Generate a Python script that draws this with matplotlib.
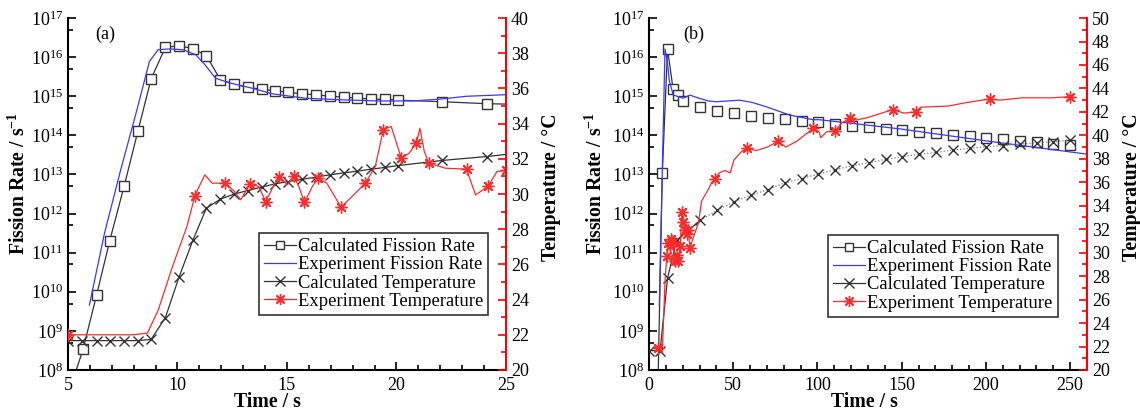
import numpy as np
import matplotlib
matplotlib.use('Agg')
import matplotlib.pyplot as plt
from matplotlib.ticker import FixedLocator, MultipleLocator, LogFormatterMathtext, NullFormatter
from matplotlib.lines import Line2D

plt.rcParams['font.family'] = ['Liberation Serif', 'DejaVu Serif']
plt.rcParams['mathtext.fontset'] = 'custom'
plt.rcParams['mathtext.rm'] = 'Liberation Serif'
plt.rcParams['mathtext.it'] = 'Liberation Serif:italic'
plt.rcParams['mathtext.bf'] = 'Liberation Serif:bold'

# ---------------- panel (a) data ----------------
# calculated fission rate (log10 of rate); first and last points only carry the line
calc_fr_a_t = [5.38, 5.69, 6.31, 6.91, 7.57, 8.19, 8.80, 9.45, 10.07, 10.71, 11.32, 11.96, 12.58,
               13.20, 13.84, 14.46, 15.07, 15.70, 16.33, 16.95, 17.59, 18.21, 18.83, 19.47,
               20.09, 22.10, 24.12, 25.0]
calc_fr_a_log = [8.0, 8.53, 9.92, 11.31, 12.71, 14.10, 15.45, 16.25, 16.29, 16.22, 16.04, 15.42, 15.31,
                 15.23, 15.18, 15.14, 15.10, 15.06, 15.04, 15.00, 14.98, 14.95, 14.93, 14.92,
                 14.90, 14.86, 14.81, 14.80]

exp_fr_a_t = [5.98, 6.67, 7.40, 8.11, 8.72, 9.12, 9.62, 10.27, 10.84, 11.25, 11.74, 12.40, 13.38,
              14.36, 15.83, 17.47, 19.11, 20.74, 22.05, 23.20, 25.0]
exp_fr_a_log = [9.66, 11.50, 13.10, 14.57, 15.89, 16.19, 16.21, 16.19, 16.06, 15.81, 15.46, 15.34, 15.21,
                15.06, 14.95, 14.91, 14.88, 14.88, 14.93, 15.00, 15.04]

calc_temp_a_t = [5.0, 5.65, 6.31, 6.93, 7.57, 8.19, 8.80, 9.45, 10.07, 10.71, 11.32, 11.96, 12.58,
                 13.20, 13.84, 14.46, 15.07, 15.70, 16.33, 16.95, 17.59, 18.21, 18.83, 19.47,
                 20.09, 22.10, 24.12, 25.0]
calc_temp_a = [21.67, 21.67, 21.67, 21.67, 21.67, 21.67, 21.74, 22.98, 25.27, 27.39, 29.19, 29.71, 29.99,
               30.20, 30.39, 30.58, 30.71, 30.84, 30.96, 31.09, 31.20, 31.30, 31.41, 31.51,
               31.62, 31.91, 32.13, 32.25]

exp_temp_a_t = [5.0, 6.0, 7.0, 8.0, 8.63, 9.12, 9.78, 10.43, 10.79, 10.99, 11.25, 11.58, 12.18, 12.56,
                12.89, 13.30, 13.71, 14.03, 14.36, 14.66, 15.02, 15.31, 15.55, 15.80, 16.16, 16.41,
                16.82, 17.47, 18.13, 18.58, 19.03, 19.40, 19.76, 20.22, 20.58, 20.91, 21.07, 21.27,
                21.48, 22.22, 23.20, 23.61, 24.18, 24.59, 25.0]
exp_temp_a = [22.0, 22.0, 22.0, 22.0, 22.1, 23.4, 25.9, 28.15, 29.86, 30.43, 31.09, 30.62, 30.62, 30.2,
              29.67, 30.56, 30.43, 29.57, 30.4, 30.96, 30.52, 31.03, 30.4, 29.52, 30.43, 30.90,
              30.62, 29.25, 30.05, 30.62, 31.56, 33.65, 33.84, 32.04, 32.32, 32.89, 33.74, 32.42,
              31.75, 31.47, 31.41, 29.95, 30.43, 31.28, 31.34]
exp_temp_a_marks = [0, 8, 12, 15, 17, 19, 21, 23, 25, 27, 29, 31, 33, 35, 38, 40, 42, 44]

# ---------------- panel (b) data ----------------
calc_fr_b_t = [5.5, 7.9, 11.0, 14.3, 17.1, 20.4, 30.3, 40.6, 50.4, 60.5, 70.6, 80.5, 90.6, 100.4,
               110.7, 120.6, 130.5, 140.4, 150.4, 160.1, 170.4, 180.3, 190.4, 200.2, 210.1,
               220.2, 230.3, 240.1, 250.0]
calc_fr_b_log = [8.0, 13.04, 16.21, 15.18, 15.02, 14.89, 14.72, 14.63, 14.56, 14.50, 14.45, 14.42, 14.38,
                 14.33, 14.29, 14.24, 14.21, 14.17, 14.14, 14.09, 14.06, 14.02, 13.98, 13.94,
                 13.91, 13.86, 13.82, 13.79, 13.75]

exp_fr_b_t = [6.1, 9.5, 11.0, 12.0, 14.4, 17.5, 20.3, 24.3, 28.2, 35.1, 40.1, 53.9, 61.4, 69.7, 83.5,
              97.3, 101.0, 120.0, 150.0, 180.0, 200.0, 230.0, 260.0]
exp_fr_b_log = [9.65, 16.21, 15.85, 15.41, 15.03, 14.99, 14.95, 15.03, 14.97, 14.88, 14.86, 14.90, 14.84,
                14.73, 14.52, 14.40, 14.40, 14.31, 14.16, 13.98, 13.86, 13.69, 13.52]

calc_temp_b_t = [0.0, 6.6, 11.0, 16.4, 30.3, 40.6, 50.4, 60.5, 70.6, 80.5, 90.6, 100.4, 110.7, 120.6,
                 130.5, 140.4, 150.4, 160.1, 170.4, 180.3, 190.4, 200.2, 210.1, 220.2, 230.3,
                 240.1, 250.0]
calc_temp_b = [21.65, 21.65, 27.83, 31.05, 32.76, 33.62, 34.33, 34.90, 35.38, 35.95, 36.32, 36.70,
               37.09, 37.41, 37.66, 37.95, 38.18, 38.38, 38.55, 38.75, 38.89, 39.03, 39.12, 39.26,
               39.37, 39.46, 39.60]

exp_temp_b_t = [3.0, 5.5, 8.0, 9.5, 10.5, 11.5, 12.4, 13.2, 14.3, 15.4, 16.4, 17.4, 18.6, 19.4, 20.3,
                21.5, 22.3, 23.3, 24.3, 26.3, 29.3, 31.2, 35.2, 37.3, 39.0, 41.7, 45.0, 48.2, 50.4,
                54.8, 58.1, 63.6, 70.2, 76.8, 81.1, 87.7, 92.1, 97.6, 100.9, 102.0, 105.3, 110.7,
                114.0, 119.5, 122.8, 129.4, 133.8, 144.7, 151.3, 158.3, 161.2, 177.6, 188.6,
                202.2, 208.3, 221.5, 239.0, 250.0]
exp_temp_b = [21.9, 21.9, 21.9, 27.5, 29.7, 30.8, 30.6, 31.2, 30.9, 29.3, 29.8, 29.3, 30.6, 33.5, 32.6,
              31.9, 31.6, 31.9, 30.4, 31.3, 32.5, 34.4, 35.4, 36.0, 36.3, 36.8, 37.0, 36.8, 37.9,
              38.6, 38.9, 38.7, 39.0, 39.5, 39.0, 39.5, 40.0, 40.6, 40.3, 39.8, 40.3, 40.4, 41.0,
              41.5, 41.3, 41.5, 41.7, 42.2, 41.9, 42.0, 42.4, 42.5, 42.8, 43.1, 43.0, 43.2, 43.2, 43.3]
exp_temp_b_marks = [1, 4, 5, 6, 7, 8, 9, 10, 11, 12, 13, 14, 15, 16, 17, 18, 24, 30, 33, 37, 41, 43,
                    47, 49, 53, 57]

legend_labels = ['Calculated Fission Rate', 'Experiment Fission Rate',
                 'Calculated Temperature', 'Experiment Temperature']

GRAY = '#333333'
BLUE = '#3838ff'
RED = '#ff2a2a'
STAR = (8, 2, 0)
FS = 13
LFS = 14.2


def style_axes(ax, ax2, xmaj, xmin, xlim, tmax, xlab_x, ylab_x):
    ax.set_yscale('log')
    ax.set_ylim(1e8, 1e17)
    ax.set_xlim(*xlim)
    ax.yaxis.set_major_locator(FixedLocator([10.0 ** k for k in range(8, 18)]))
    ax.yaxis.set_minor_locator(FixedLocator([5 * 10.0 ** k for k in range(8, 17)]))
    ax.yaxis.set_major_formatter(LogFormatterMathtext())
    ax.yaxis.set_minor_formatter(NullFormatter())
    ax.xaxis.set_major_locator(MultipleLocator(xmaj))
    ax.xaxis.set_minor_locator(MultipleLocator(xmin))
    ax.tick_params(which='both', direction='in', labelsize=FS, width=1.2)
    ax.tick_params(which='major', length=6)
    ax.tick_params(which='minor', length=3.5)
    ax.tick_params(axis='x', pad=5)
    for s in ['top', 'right']:
        ax.spines[s].set_visible(False)
    for s in ['left', 'bottom']:
        ax.spines[s].set_linewidth(1.5)
    ax2.set_ylim(20, tmax)
    ax2.yaxis.set_major_locator(MultipleLocator(2))
    ax2.yaxis.set_minor_locator(MultipleLocator(1))
    ax2.tick_params(which='both', direction='in', labelsize=FS, color='red', width=1.2)
    ax2.tick_params(which='major', length=6)
    ax2.tick_params(which='minor', length=3.5)
    for s in ['top', 'left', 'bottom']:
        ax2.spines[s].set_visible(False)
    ax2.spines['right'].set_color('red')
    ax2.spines['right'].set_linewidth(1.5)
    ax.set_xlabel('Time / s', fontsize=LFS, fontweight='bold')
    ax.xaxis.set_label_coords(xlab_x, -0.062)
    ax.set_ylabel('Fission Rate / s$^{\\mathbf{-1}}$', fontsize=LFS, fontweight='bold')
    ax.yaxis.set_label_coords(ylab_x, 0.53)
    ax2.set_ylabel('Temperature / \u00b0C', fontsize=LFS, fontweight='bold')
    ax2.yaxis.set_label_coords(1.080, 0.52)


def add_legend(ax, x0, y0):
    handles = [
        Line2D([], [], color=GRAY, lw=0.9, marker='s', mfc='white', mec=GRAY, ms=6),
        Line2D([], [], color=BLUE, lw=0.9),
        Line2D([], [], color=GRAY, lw=0.9, marker='x', mec=GRAY, ms=7),
        Line2D([], [], color=RED, lw=0.9, marker=STAR, mec=RED, ms=8),
    ]
    leg = ax.legend(handles, legend_labels, loc='upper left', bbox_to_anchor=(x0, y0),
                    fontsize=13.4, frameon=True, fancybox=False, borderpad=0.28,
                    labelspacing=0.06, handlelength=1.7, handletextpad=0.12, borderaxespad=0)
    leg.get_frame().set_edgecolor('black')
    leg.get_frame().set_linewidth(1.2)
    leg.set_zorder(10)


fig = plt.figure(figsize=(11.4, 4.16), dpi=100)

# ---------- (a) ----------
ax = fig.add_axes([0.0596, 0.1106, 0.3842, 0.846])
ax2 = ax.twinx()
ax.plot(calc_fr_a_t, 10 ** np.array(calc_fr_a_log), color=GRAY, lw=0.9, marker='s', mfc='white',
        mec=GRAY, ms=6.5, markevery=list(range(1, len(calc_fr_a_t) - 1)))
ax.plot(exp_fr_a_t, 10 ** np.array(exp_fr_a_log), color=BLUE, lw=0.9)
ax2.plot(calc_temp_a_t, calc_temp_a, color=GRAY, lw=0.9, marker='x', mec=GRAY, ms=7,
         markevery=list(range(len(calc_temp_a_t) - 1)))
ax2.plot(exp_temp_a_t, exp_temp_a, color=RED, lw=0.9, marker=STAR, mec=RED, ms=8.5,
         markevery=exp_temp_a_marks)
style_axes(ax, ax2, 5, 1, (5, 25), 40, 0.455, -0.086)
ax.text(0.062, 0.955, '(a)', transform=ax.transAxes, fontsize=FS, va='center')
add_legend(ax2, 0.436, 0.389)

# ---------- (b) ----------
bx = fig.add_axes([0.5693, 0.1106, 0.3842, 0.846])
bx2 = bx.twinx()
bx.plot(calc_fr_b_t[:6], 10 ** np.array(calc_fr_b_log[:6]), color=GRAY, lw=0.9)
bx.plot(calc_fr_b_t[1:], 10 ** np.array(calc_fr_b_log[1:]), ls='none', marker='s', mfc='white',
        mec=GRAY, ms=6.5)
bx.plot(exp_fr_b_t, 10 ** np.array(exp_fr_b_log), color=BLUE, lw=0.9)
bx2.plot(calc_temp_b_t[:5], calc_temp_b[:5], color=GRAY, lw=0.9)
bx2.plot(calc_temp_b_t[4:], calc_temp_b[4:], color='#777777', lw=0.9, ls=':')
bx2.plot(calc_temp_b_t, calc_temp_b, ls='none', marker='x', mec=GRAY, ms=7)
bx2.plot(exp_temp_b_t, exp_temp_b, color=RED, lw=0.9, marker=STAR, mec=RED, ms=8.5,
         markevery=exp_temp_b_marks)
style_axes(bx, bx2, 50, 10, (0, 260), 50, 0.491, -0.097)
bx.text(0.078, 0.955, '(b)', transform=bx.transAxes, fontsize=FS, va='center')
add_legend(bx2, 0.409, 0.384)

fig.savefig('out.png', dpi=100)
